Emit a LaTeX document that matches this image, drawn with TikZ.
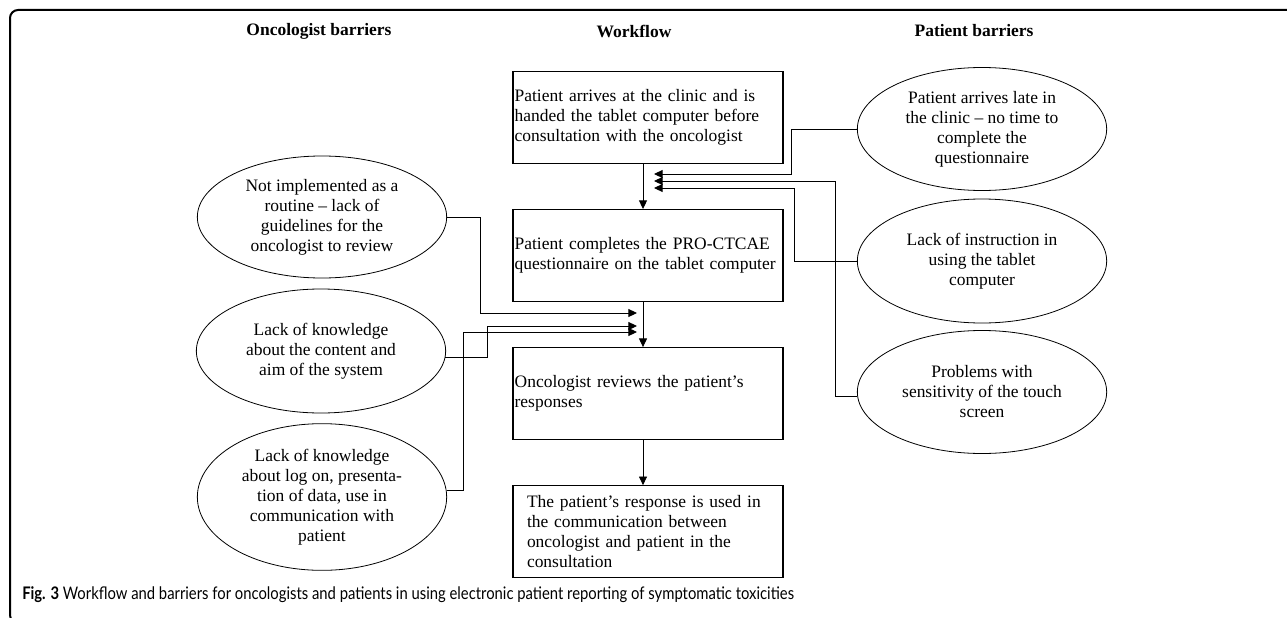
\documentclass[tikz,border=0pt]{standalone}
\usepackage{fontspec}
\setmainfont{Liberation Serif}
\newfontfamily\capfont[FakeStretch=0.855]{Lato}
\usetikzlibrary{arrows.meta,shapes.geometric,positioning}
\tikzstyle{stepbox} = [rectangle, draw, line width=0.8pt, minimum height=69pt, text width=200pt, inner xsep=1.25pt, align=left, font=\fontsize{13.1}{15}\selectfont]
\tikzstyle{barrier} = [ellipse, draw, line width=0.6pt, inner sep=0pt, minimum width=187pt, align=center, font=\fontsize{13.1}{15}\selectfont]
\tikzstyle{head} = [font=\bfseries\fontsize{13.1}{15}\selectfont]
\tikzstyle{arrow} = [line width=0.7pt, -{Triangle[length=6.5pt,width=6pt]}]

\begin{document}
\begin{tikzpicture}[x=0.75pt, y=-0.75pt]
\path[use as bounding box] (0,0) rectangle (1287,617);
\clip (0,0) rectangle (1287,617);
\draw[line width=1.5pt, rounded corners=6pt] (1300,10) -- (10,10) -- (10,623) -- (1300,623);

% column titles
\node[head] (hOnc) at (319,31) {Oncologist barriers};
\node[head] (hWork) at (634,31) {Workflow};
\node[head] (hPat) at (974,31) {Patient barriers};

% workflow
\node[stepbox] (arrive) at (648,117.5) {Patient arrives at the clinic and is\\handed the tablet computer before\\consultation with the oncologist};
\node[stepbox, below=33.75pt of arrive] (complete) {Patient completes the PRO-CTCAE\\questionnaire on the tablet computer};
\node[stepbox, below=33.75pt of complete] (review) {Oncologist reviews the patient’s\\responses};
\node[stepbox, below=33.75pt of review, text width=181.5pt, inner xsep=10.5pt] (use) {The patient’s response is used in\\the communication between\\oncologist and patient in the\\consultation};

% oncologist barriers
\node[barrier, minimum height=91.5pt] (routine) at (322,217) {Not implemented as a\\routine – lack of\\guidelines for the\\oncologist to review};
\node[barrier, minimum height=93pt] (content) at (321,351) {Lack of knowledge\\about the content and\\aim of the system};
\node[barrier, minimum height=110pt] (logon) at (322,497) {Lack of knowledge\\about log on, presenta-\\tion of data, use in\\communication with\\patient};

% patient barriers
\node[barrier, minimum height=92.25pt] (late) at (982,129) {Patient arrives late in\\the clinic – no time to\\complete the\\questionnaire};
\node[barrier, minimum height=93pt] (instr) at (982,261) {Lack of instruction in\\using the tablet\\computer};
\node[barrier, minimum height=92.25pt] (touch) at (982,392) {Problems with\\sensitivity of the touch\\screen};

% arrows
\coordinate (spine) at (643,0);
\draw[arrow] (arrive.south -| spine) -- (complete.north -| spine);
\draw[arrow] (complete.south -| spine) -- (review.north -| spine);
\draw[arrow] (review.south -| spine) -- (use.north -| spine);

\coordinate (tipA) at (654,174);
\coordinate (tipB) at (654,181);
\coordinate (tipC) at (654,188);
\draw[arrow] (late.west) -- ++(-65,0) |- (tipA);
\draw[arrow] (touch.182) -- ++(-22,0) |- (tipB);
\draw[arrow] (instr.west) -- ++(-62,0) |- (tipC);

\coordinate (tipD) at (637,313);
\coordinate (tipE) at (637,326);
\coordinate (tipF) at (637,332);
\draw[arrow] (routine.east) -- ++(33,0) |- (tipD);
\draw[arrow] (content.-3) -- ++(42,0) |- (tipE);
\draw[arrow] (logon.3) -- ++(17,0) |- (tipF);

% caption
\node[anchor=base west, inner sep=0pt, font=\capfont\fontsize{13}{15}\selectfont] (caption) at (22,599) {\textbf{Fig. 3} Workflow and barriers for oncologists and patients in using electronic patient reporting of symptomatic toxicities};
\end{tikzpicture}
\end{document}
